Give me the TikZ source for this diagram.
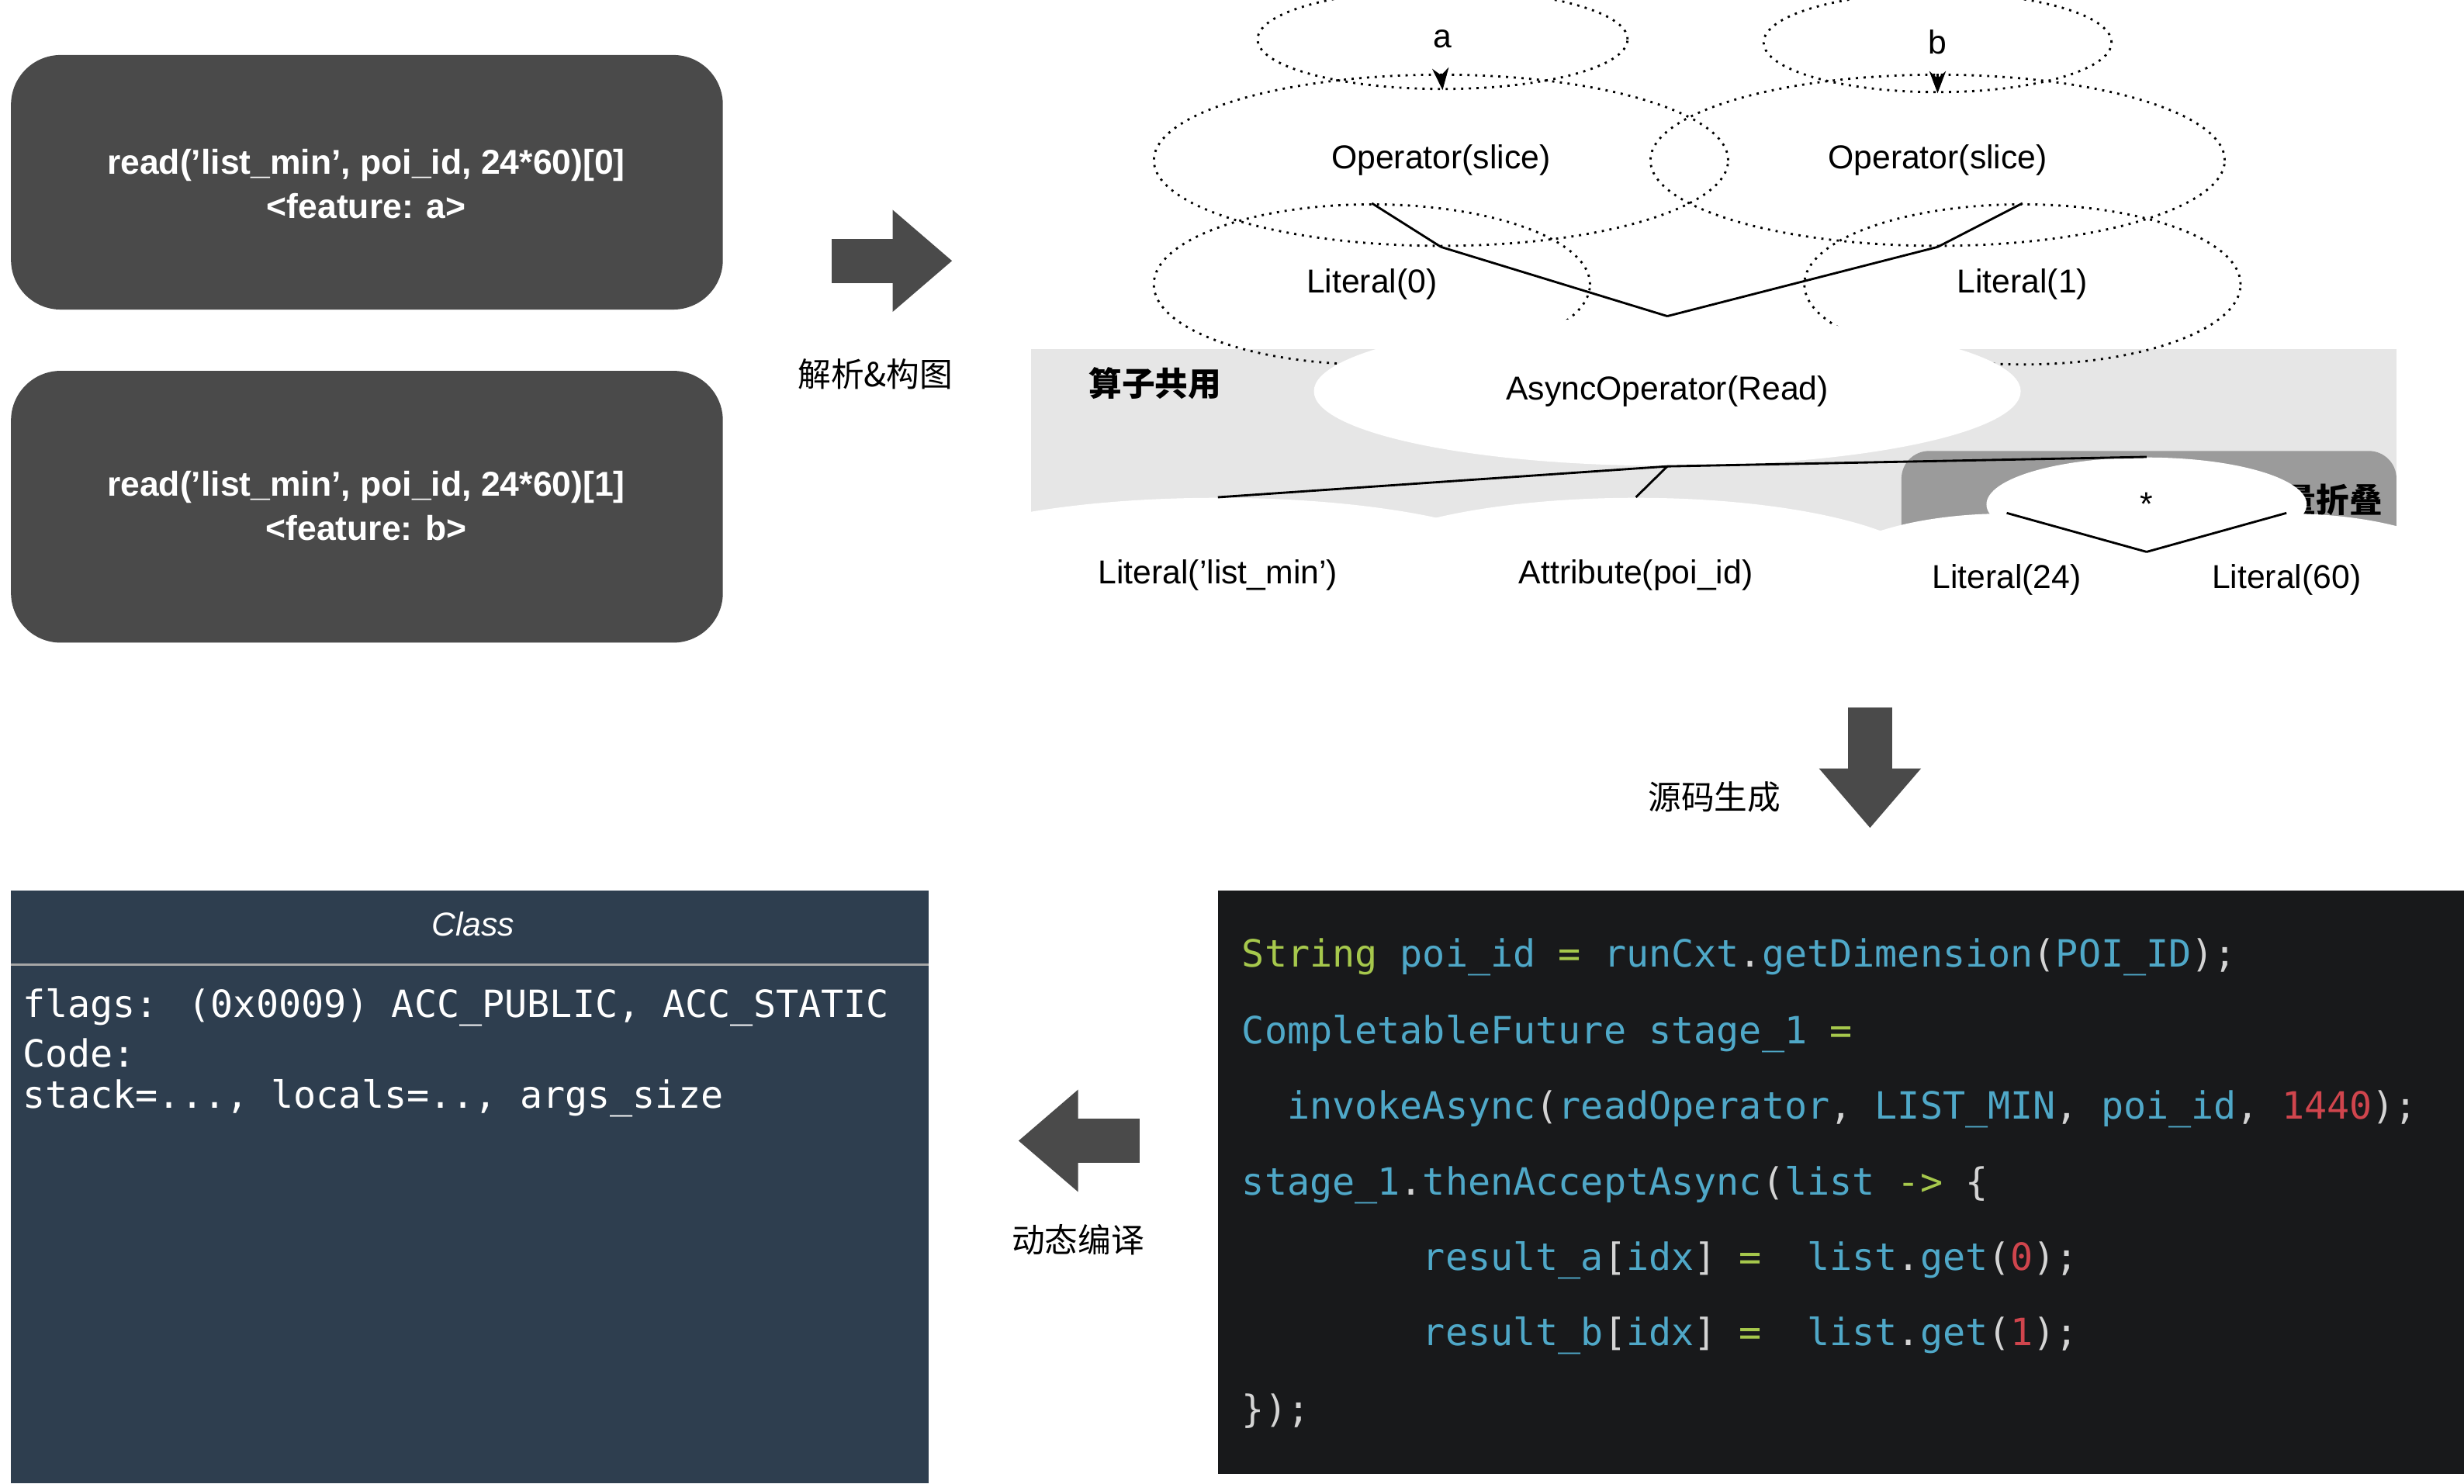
\documentclass[tikz,border=0pt]{standalone}
\usepackage{fontspec}
\setmainfont{Liberation Sans}
\newfontfamily\cjk{Noto Sans CJK SC}
\newfontfamily\codefont{DejaVu Sans Mono}
\usepackage{tikz}
\usetikzlibrary{arrows.meta}
\usetikzlibrary{shapes.geometric}
\definecolor{box_dark}{HTML}{4A4A4A}
\definecolor{area_light}{HTML}{E6E6E6}
\definecolor{area_mid}{HTML}{9B9B9B}
\definecolor{code_bg}{HTML}{18191B}
\definecolor{class_bg}{HTML}{2E3E4F}
\definecolor{code_green}{HTML}{A6C84C}
\definecolor{code_blue}{HTML}{4FA8C8}
\definecolor{code_red}{HTML}{D0454D}
\definecolor{code_white}{HTML}{D4D4D4}
\tikzstyle{expr_box} = [rounded corners = 18, fill = box_dark, text = white, align = center, font = \bfseries\fontsize{12.5}{16}\selectfont]
\tikzstyle{ast_node} = [ellipse, draw, dotted, thick, inner sep = 0, font = \fontsize{12}{14}\selectfont]
\tikzstyle{ast_shared} = [ellipse, fill = white, inner sep = 0, font = \fontsize{12}{14}\selectfont]
\tikzstyle{ast_edge} = [thick]
\tikzstyle{fat_arrow} = [draw = box_dark, line width = 0.56cm, -{Triangle[width = 1.25cm, length = 0.76cm]}]
\tikzstyle{step_label} = [font = \cjk\fontsize{12}{14}\selectfont]
\tikzstyle{code_line} = [anchor = west, inner sep = 0, font = \codefont\fontsize{13.6}{16}\selectfont]
\newcommand{\kwgreen}[1]{\textcolor{code_green}{#1}}
\newcommand{\kwblue}[1]{\textcolor{code_blue}{#1}}
\newcommand{\kwred}[1]{\textcolor{code_red}{#1}}
\newcommand{\kwwhite}[1]{\textcolor{code_white}{#1}}

\begin{document}
\begin{tikzpicture}[x = 0.02cm, y = -0.02cm]
        \useasboundingbox (0, 0) rectangle (1568, 944);
        % input expressions
        \fill [box_dark, rounded corners = 18] (7, 35) rectangle (460, 197);
        \fill [box_dark, rounded corners = 18] (7, 236) rectangle (460, 409);
        \node [expr_box] (expr_a) at (233, 117) {read('list\_min', poi\_id, 24*60)[0]\\<feature: a>};
        \node [expr_box] (expr_b) at (233, 322) {read('list\_min', poi\_id, 24*60)[1]\\<feature: b>};
        % shaded areas
        \fill [area_light] (656, 222) rectangle (1525, 395);
        \fill [area_mid, rounded corners = 10] (1210, 287) rectangle (1525, 393);
        \node [font = \cjk\bfseries\fontsize{12}{14}\selectfont] (share_label) at (735, 244) {算子共用};
        \node [font = \cjk\bfseries\fontsize{12}{14}\selectfont] (fold_label) at (1474, 318) {常量折叠};
        % tree
        \node [ast_node, minimum width = 134, minimum height = 36] (out_a) at (918, 25) {a};
        \node [ast_node, minimum width = 126, minimum height = 36] (out_b) at (1233, 27) {b};
        \node [ast_node, minimum width = 208, minimum height = 62] (slice_a) at (917, 102) {Operator(slice)};
        \node [ast_node, minimum width = 208, minimum height = 62] (slice_b) at (1233, 102) {Operator(slice)};
        \node [ast_node, minimum width = 158, minimum height = 58] (lit_0) at (873, 181) {Literal(0)};
        \node [ast_node, minimum width = 158, minimum height = 58] (lit_1) at (1287, 181) {Literal(1)};
        \node [ast_shared, minimum width = 256, minimum height = 54] (read_op) at (1061, 249) {AsyncOperator(Read)};
        \node [ast_shared, minimum width = 236, minimum height = 56] (lit_list) at (775, 366) {Literal('list\_min')};
        \node [ast_shared, minimum width = 216, minimum height = 56] (attr_poi) at (1041, 366) {Attribute(poi\_id)};
        \node [ast_shared, minimum width = 116, minimum height = 34] (mul_op) at (1366, 321) {*};
        \node [ast_shared, minimum width = 136, minimum height = 48] (lit_24) at (1277, 369) {Literal(24)};
        \node [ast_shared, minimum width = 136, minimum height = 48] (lit_60) at (1455, 369) {Literal(60)};
        \draw [ast_edge, -{Stealth[length = 8pt, width = 6pt]}] (slice_a.north) -- (out_a.south);
        \draw [ast_edge, -{Stealth[length = 8pt, width = 6pt]}] (slice_b.north) -- (out_b.south);
        \draw [ast_edge] (slice_a.south) -- (read_op.north);
        \draw [ast_edge] (slice_b.south) -- (read_op.north);
        \draw [ast_edge] (slice_a.south) -- (lit_0.north);
        \draw [ast_edge] (slice_b.south) -- (lit_1.north);
        \draw [ast_edge] (read_op.south) -- (lit_list.north);
        \draw [ast_edge] (read_op.south) -- (attr_poi.north);
        \draw [ast_edge] (read_op.south) -- (mul_op.north);
        \draw [ast_edge] (mul_op.south) -- (lit_24.north);
        \draw [ast_edge] (mul_op.south) -- (lit_60.north);
        % step arrows
        \coordinate (parse_from) at (529, 166);
        \coordinate (parse_to) at (606, 166);
        \coordinate (gen_from) at (1190, 450);
        \coordinate (gen_to) at (1190, 527);
        \coordinate (comp_from) at (725, 726);
        \coordinate (comp_to) at (648, 726);
        \draw [fat_arrow] (parse_from) -- (parse_to);
        \draw [fat_arrow] (gen_from) -- (gen_to);
        \draw [fat_arrow] (comp_from) -- (comp_to);
        \node [step_label] (parse_label) at (557, 238) {解析\&构图};
        \node [step_label] (gen_label) at (1091, 507) {源码生成};
        \node [step_label] (comp_label) at (686, 789) {动态编译};
        % generated code
        \fill [code_bg] (775, 567) rectangle (1568, 938);
        \node [code_line] (code_1) at (790, 609) {\kwgreen{String} \kwblue{poi\_id} \kwgreen{=} \kwblue{runCxt}\kwwhite{.}\kwblue{getDimension}\kwwhite{(}\kwblue{POI\_ID}\kwwhite{);}};
        \node [code_line] (code_2) at (790, 658) {\kwblue{CompletableFuture stage\_1} \kwgreen{=}};
        \node [code_line] (code_3) at (790, 706) {\kwblue{\ \ invokeAsync}\kwwhite{(}\kwblue{readOperator}\kwwhite{,} \kwblue{LIST\_MIN}\kwwhite{,} \kwblue{poi\_id}\kwwhite{,} \kwred{1440}\kwwhite{);}};
        \node [code_line] (code_4) at (790, 754) {\kwblue{stage\_1}\kwwhite{.}\kwblue{thenAcceptAsync}\kwwhite{(}\kwblue{list} \kwgreen{->} \kwwhite{\{}};
        \node [code_line] (code_5) at (790, 802) {\kwblue{\ \ \ \ \ \ \ \ result\_a}\kwwhite{[}\kwblue{idx}\kwwhite{]} \kwgreen{=} \ \kwblue{list}\kwwhite{.}\kwblue{get}\kwwhite{(}\kwred{0}\kwwhite{);}};
        \node [code_line] (code_6) at (790, 850) {\kwblue{\ \ \ \ \ \ \ \ result\_b}\kwwhite{[}\kwblue{idx}\kwwhite{]} \kwgreen{=} \ \kwblue{list}\kwwhite{.}\kwblue{get}\kwwhite{(}\kwred{1}\kwwhite{);}};
        \node [code_line] (code_7) at (790, 898) {\kwwhite{\});}};
        % class file
        \fill [class_bg] (7, 567) rectangle (591, 944);
        \draw [gray!70, thick] (7, 614) -- (591, 614);
        \node [text = white, font = \itshape\fontsize{12}{14}\selectfont] (class_head) at (301, 588) {Class};
        \node [code_line, text = white] (class_1) at (14, 641) {flags: (0x0009) ACC\_PUBLIC, ACC\_STATIC};
        \node [code_line, text = white] (class_2) at (14, 670) {Code:};
        \node [code_line, text = white] (class_3) at (14, 699) {stack=..., locals=.., args\_size};
    \end{tikzpicture}
\end{document}
